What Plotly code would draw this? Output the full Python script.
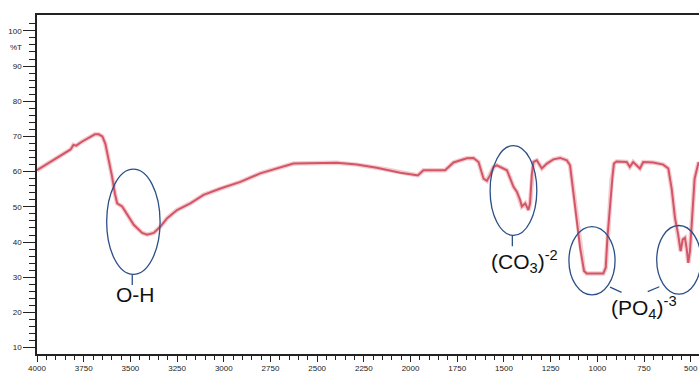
import plotly.graph_objects as go

# FTIR spectrum: wavenumber (cm-1) vs transmittance (%T)
wavenumber = [
    4000, 3950, 3900, 3850, 3820, 3805, 3790, 3760, 3720, 3690, 3670, 3650,
    3634, 3616, 3598, 3583, 3571, 3544, 3517, 3482, 3437, 3410, 3375, 3339,
    3303, 3250, 3179, 3108, 3018, 2911, 2805, 2751, 2698, 2627, 2395, 2288,
    2181, 2055, 1966, 1960, 1931, 1815, 1770, 1699, 1663, 1636, 1609, 1591,
    1574, 1556, 1538, 1520, 1502, 1484, 1466, 1449, 1431, 1413, 1404, 1386,
    1369, 1360, 1351, 1342, 1324, 1297, 1270, 1235, 1199, 1163, 1146, 1128,
    1110, 1092, 1071, 1057, 968, 955, 946, 932, 923, 918, 911, 897, 843, 826,
    808, 772, 754, 701, 647, 620, 602, 584, 567, 554, 543, 531, 522, 513, 504,
    490, 479, 466, 457,
]
transmittance = [
    60.4, 62.0, 63.6, 65.2, 66.3, 67.6, 67.4, 68.5, 69.8, 70.6, 70.6, 70.0,
    67.9, 63.7, 58.6, 53.8, 51.0, 50.1, 47.7, 44.9, 42.6, 42.1, 42.6, 44.4,
    46.8, 49.1, 51.0, 53.4, 55.2, 57.1, 59.5, 60.3, 61.3, 62.3, 62.5, 62.0,
    61.1, 59.7, 59.0, 59.0, 60.4, 60.4, 62.6, 63.8, 63.9, 62.75, 58.0, 57.4,
    59.0, 61.3, 61.8, 61.35, 60.9, 60.4, 58.0, 55.7, 54.3, 51.9, 50.1, 51.0,
    49.1, 51.0, 59.0, 62.75, 63.2, 60.9, 62.3, 63.5, 63.9, 63.2, 61.8, 54.3,
    45.9, 38.3, 31.8, 31.1, 31.1, 32.7, 41.2, 50.5, 58.0, 59.0, 62.3, 62.9,
    62.75, 61.35, 62.75, 60.9, 62.75, 62.6, 62.0, 60.9, 55.2, 46.8, 42.1,
    37.4, 40.7, 41.2, 38.3, 34.1, 37.4, 48.7, 58.0, 60.9, 62.75,
]

x_ticks = [4000, 3750, 3500, 3250, 3000, 2750, 2500, 2250, 2000, 1750, 1500, 1250, 1000, 750, 500]
y_ticks = [10, 20, 30, 40, 50, 60, 70, 80, 90, 100]
y_tick_labels = ["10", "20", "30", "40", "50", "60", "70", "80", "90", "100"]

# band groups: ellipse extents (x0, x1, y0, y1)
band_ellipses = [
    (3627, 3341, 30.8, 60.7),
    (1574, 1324, 41.9, 67.4),
    (1152, 905, 25.0, 44.4),
    (682, 445, 25.2, 44.7),
]
connectors = [
    (3490, 30.8, 3490, 27.8),
    (1455, 41.9, 1455, 38.8),
    (932, 27.2, 870, 25.7),
    (668, 27.3, 730, 25.9),
]
labels = [
    ("O-H", 3475, 25.0, "center"),
    ("(CO<sub>3</sub>)<sup>-2</sup>", 1580, 34.6, "left"),
    ("(PO<sub>4</sub>)<sup>-3</sup>", 940, 21.3, "left"),
]

ELLIPSE_BLUE = "#2b4f88"
TICK_FONT = dict(family="Liberation Sans, Arial, sans-serif", size=8, color="#222222")

fig = go.Figure()
# soft halo under the spectrum line
fig.add_trace(go.Scatter(
    x=wavenumber, y=transmittance, mode="lines",
    line=dict(color="rgba(228,140,150,0.45)", width=4.5),
    hoverinfo="skip", showlegend=False,
))
fig.add_trace(go.Scatter(
    x=wavenumber, y=transmittance, mode="lines",
    line=dict(color="rgba(206,66,84,0.85)", width=2),
    showlegend=False,
))

for x0, x1, y0, y1 in band_ellipses:
    fig.add_shape(type="circle", xref="x", yref="y", x0=x0, x1=x1, y0=y0, y1=y1,
                  line=dict(color=ELLIPSE_BLUE, width=1.3))
for x0, y0, x1, y1 in connectors:
    fig.add_shape(type="line", xref="x", yref="y", x0=x0, y0=y0, x1=x1, y1=y1,
                  line=dict(color=ELLIPSE_BLUE, width=1.3))
for text, x, y, anchor in labels:
    fig.add_annotation(x=x, y=y, text=text, showarrow=False, xanchor=anchor, yanchor="middle",
                       font=dict(family="Liberation Sans, Arial, sans-serif", size=21, color="#111111"))

# %T unit label sitting on the y axis
fig.add_annotation(xref="paper", yref="y", x=0, y=95.2, text="%T", showarrow=False,
                   xanchor="right", yanchor="middle", xshift=-13, font=TICK_FONT)

fig.update_layout(
    width=699, height=373,
    margin=dict(l=37, r=0, t=15, b=16),
    paper_bgcolor="white", plot_bgcolor="white",
    showlegend=False,
)
fig.update_xaxes(
    range=[4000, 455.6], showgrid=False, zeroline=False,
    showline=True, linecolor="#222222", linewidth=1.5, mirror=True,
    tickmode="array", tickvals=x_ticks, ticks="outside", ticklen=6, tickwidth=1,
    tickcolor="#222222", tickfont=TICK_FONT,
    minor=dict(dtick=50, tick0=0, ticks="outside", ticklen=4, tickwidth=1, tickcolor="#222222"),
)
fig.update_yaxes(
    range=[8.2, 104.5], showgrid=False, zeroline=False,
    showline=True, linecolor="#222222", linewidth=1.5,
    tickmode="array", tickvals=y_ticks, ticktext=y_tick_labels,
    ticks="outside", ticklen=12, tickwidth=1, tickcolor="#222222", tickfont=TICK_FONT,
    minor=dict(tickmode="array", tickvals=[v for v in range(12, 103, 2) if v % 10],
               ticks="outside", ticklen=6, tickwidth=1, tickcolor="#222222"),
)

fig.write_html("out.html")
